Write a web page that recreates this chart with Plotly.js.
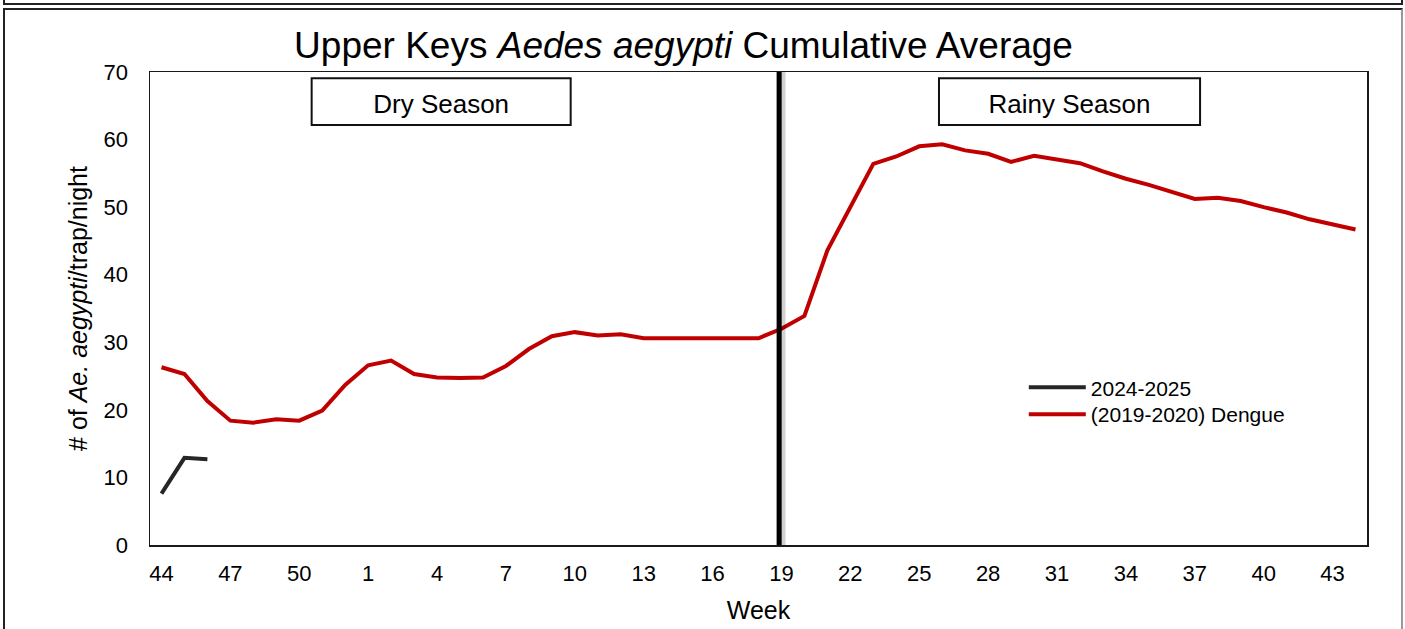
<!DOCTYPE html>
<html>
<head>
<meta charset="utf-8">
<script src="https://cdn.plot.ly/plotly-3.0.1.min.js"></script>
<style>
  html, body { margin: 0; padding: 0; background: #fff; }
  #wrap { position: relative; width: 1405px; height: 629px; overflow: hidden; }
  #chart { position: absolute; left: 0; top: 0; width: 1405px; height: 629px; }
  #topbox { position: absolute; left: 3px; top: -30px; width: 1396px; height: 31px; border: 2px solid #222; pointer-events: none; }
  #frame { position: absolute; left: 3px; top: 8px; width: 1396px; height: 640px; border: 2px solid #222; border-right-color: #999; pointer-events: none; }
</style>
</head>
<body>
<div id="wrap">
  <div id="chart"></div>
  <div id="topbox"></div>
  <div id="frame"></div>
</div>
<script>
// Week categories (week 44 of one year through week 44 of the next)
const weeks = [44,45,46,47,48,49,50,51,52,1,2,3,4,5,6,7,8,9,10,11,12,13,14,15,16,17,18,19,20,21,22,23,24,25,26,27,28,29,30,31,32,33,34,35,36,37,38,39,40,41,42,43,44];
const tickWeeks = [44,47,50,1,4,7,10,13,16,19,22,25,28,31,34,37,40,43];

// Series values (Ae. aegypti per trap per night)
const dengue2019 = [26.3,25.3,21.3,18.4,18.1,18.6,18.4,19.9,23.7,26.6,27.3,25.3,24.8,24.7,24.8,26.5,29.0,30.9,31.5,31.0,31.2,30.6,30.6,30.6,30.6,30.6,30.6,32.0,33.9,43.6,50.0,56.4,57.5,59.0,59.3,58.4,57.9,56.7,57.6,57.0,56.5,55.3,54.2,53.3,52.2,51.2,51.4,50.9,50.0,49.2,48.2,47.4,46.7];
const season2024 = [7.6,12.9,12.7];

const seriesNames = ['2024-2025', '(2019-2020) Dengue'];
const seasonLabels = ['Dry Season', 'Rainy Season'];

const xIdx = weeks.map((w, i) => i);
const tickvals = tickWeeks.map(w => weeks.indexOf(w));

const FONT = 'Liberation Sans, Arial, Helvetica, sans-serif';

const traces = [
  { x: xIdx.slice(0, season2024.length), y: season2024, name: seriesNames[0], type: 'scatter', mode: 'lines',
    line: { color: '#262626', width: 4 }, legend: 'legend' },
  { x: xIdx, y: dengue2019, name: seriesNames[1], type: 'scatter', mode: 'lines',
    line: { color: '#C00000', width: 4 }, legend: 'legend2' }
];

const splitX = 26.9;
const legendFont = { size: 21, family: FONT, color: '#000' };

const layout = {
  width: 1405, height: 629,
  margin: { l: 150, r: 38, t: 72, b: 84 },
  paper_bgcolor: 'rgba(0,0,0,0)',
  plot_bgcolor: '#fff',
  font: { family: FONT, color: '#000' },
  title: { text: 'Upper Keys <i>Aedes aegypti</i> Cumulative Average', font: { size: 37, family: FONT, color: '#000' },
    xref: 'container', yref: 'container', x: 0.4865, xanchor: 'center', y: 1 - 45/629, yanchor: 'middle' },
  showlegend: true,
  legend: { x: 0.718, y: 0.376, xanchor: 'left', yanchor: 'top', bgcolor: 'rgba(0,0,0,0)',
    font: legendFont, itemwidth: 57 },
  legend2: { x: 0.718, y: 0.319, xanchor: 'left', yanchor: 'top', bgcolor: 'rgba(0,0,0,0)',
    font: legendFont, itemwidth: 57 },
  xaxis: { range: [-0.5, weeks.length - 0.5], tickvals: tickvals, ticktext: tickWeeks.map(String),
    showgrid: false, zeroline: false, showline: true, linecolor: '#1a1a1a', linewidth: 1.5, mirror: true,
    ticks: '', ticklabelstandoff: 8, tickfont: { size: 22, family: FONT, color: '#000' },
    title: { text: 'Week', font: { size: 25, family: FONT, color: '#000' }, standoff: 16 }, automargin: false },
  yaxis: { range: [0, 70], dtick: 10, showgrid: false, zeroline: false, showline: true, linecolor: '#1a1a1a', linewidth: 1.5, mirror: true,
    ticks: '', ticklabelstandoff: 16, tickfont: { size: 22, family: FONT, color: '#000' },
    title: { text: '# of <i>Ae. aegypti</i>/trap/night', font: { size: 25, family: FONT, color: '#000' }, standoff: 9 }, automargin: false },
  shapes: [
    { type: 'line', xref: 'x', yref: 'paper', x0: splitX + 0.08, x1: splitX + 0.08, y0: 0, y1: 1,
      line: { color: 'rgba(0,0,0,0.18)', width: 9 } },
    { type: 'line', xref: 'x', yref: 'paper', x0: splitX, x1: splitX, y0: 0, y1: 1,
      line: { color: '#000', width: 5 } },
    { type: 'rect', xref: 'x', yref: 'y', x0: 6.54, x1: 17.82, y0: 62.16, y1: 69.07,
      fillcolor: '#fff', line: { color: '#111', width: 2 },
      label: { text: seasonLabels[0], font: { size: 26, family: FONT, color: '#000' } } },
    { type: 'rect', xref: 'x', yref: 'y', x0: 33.86, x1: 45.23, y0: 62.16, y1: 69.07,
      fillcolor: '#fff', line: { color: '#111', width: 2 },
      label: { text: seasonLabels[1], font: { size: 26, family: FONT, color: '#000' } } }
  ]
};

Plotly.newPlot('chart', traces, layout, { displayModeBar: false, staticPlot: true });
</script>
</body>
</html>
